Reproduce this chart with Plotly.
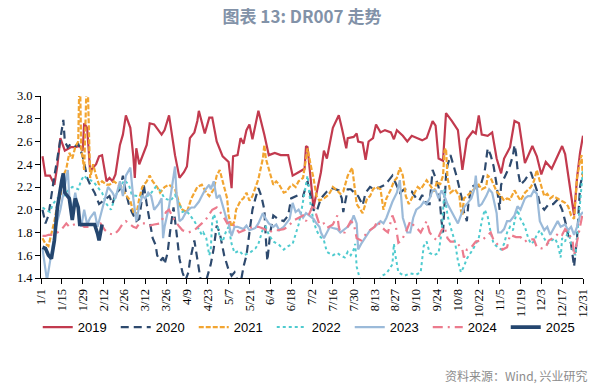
import plotly.graph_objects as go

# ---- tick labels (day of year -> label) ----
tick_days = [0, 14, 28, 42, 56, 70, 84, 98, 112, 126, 140, 154, 168, 182, 196, 210, 224, 238, 252, 266, 280, 294, 308, 322, 336, 350, 364]
tick_labels = ["1/1", "1/15", "1/29", "2/12", "2/26", "3/12", "3/26", "4/9", "4/23", "5/7", "5/21", "6/4", "6/18", "7/2", "7/16", "7/30", "8/13", "8/27", "9/10", "9/24", "10/8", "10/22", "11/5", "11/19", "12/3", "12/17", "12/31"]

# ---- series: day of year and DR007 (%) ----
d2019 = [1,3,6,9,11,13,16,20,23,26,28,29,31,33,37,39,41,44,46,48,50,53,55,57,60,62,63,64,66,71,73,76,81,83,86,88,90,93,96,98,100,103,105,106,108,110,113,115,118,122,126,128,129,132,134,136,138,140,142,146,150,153,157,161,166,169,173,177,178,179,183,188,190,192,196,200,202,205,206,210,212,213,216,218,220,223,225,228,231,235,237,239,243,246,249,252,256,259,263,265,267,270,272,276,280,283,286,290,292,294,296,300,303,306,309,311,315,318,321,325,328,330,333,336,339,343,350,352,355,358,360,362,364]
v2019 = [2.47,2.30,2.30,2.22,2.39,2.63,2.52,2.55,2.55,2.56,2.52,2.76,2.72,2.34,2.40,2.47,2.48,2.25,2.28,2.25,2.31,2.57,2.66,2.83,2.72,2.47,2.28,2.54,2.40,2.57,2.76,2.75,2.66,2.70,2.83,2.66,2.48,2.28,2.33,2.38,2.63,2.68,2.78,2.87,2.78,2.67,2.81,2.81,2.60,2.47,2.42,2.19,2.47,2.48,2.63,2.58,2.70,2.75,2.62,2.87,2.66,2.48,2.50,2.48,2.48,2.30,2.33,2.36,2.56,2.55,2.02,2.33,2.52,2.45,2.72,2.83,2.72,2.54,2.63,2.64,2.67,2.60,2.59,2.44,2.60,2.63,2.75,2.68,2.70,2.68,2.62,2.70,2.65,2.60,2.65,2.63,2.61,2.63,2.78,2.74,2.45,2.43,2.85,2.78,2.70,2.35,2.62,2.69,2.67,2.83,2.66,2.65,2.68,2.45,2.32,2.45,2.55,2.78,2.76,2.41,2.50,2.56,2.47,2.31,2.42,2.36,2.56,2.49,2.22,1.95,2.28,2.50,2.65]

d2020 = [1,3,5,7,9,11,13,15,16,18,20,23,25,28,30,31,33,36,39,42,44,46,48,50,53,55,57,59,61,64,66,68,69,71,73,75,77,78,80,82,83,85,87,89,91,93,95,97,99,100,103,105,107,109,111,114,116,118,120,123,126,128,130,132,134,136,138,140,142,144,146,148,150,151,152,154,156,159,163,166,168,173,176,179,183,185,188,192,196,200,202,203,206,208,211,213,216,218,221,224,228,231,233,236,238,241,244,246,249,252,254,256,259,261,263,265,267,269,270,271,272,273,275,279,281,283,284,286,287,289,292,295,298,300,302,304,306,308,309,311,315,317,318,319,320,322,325,327,329,331,333,335,338,341,344,347,350,352,354,356,357,358,360,361,362,364]
v2020 = [2.00,1.88,1.95,2.15,2.30,2.45,2.62,2.79,2.60,2.55,2.58,2.56,2.58,2.47,2.35,2.28,2.22,2.15,2.05,2.08,2.10,2.12,2.05,2.14,2.18,2.30,2.15,2.05,1.98,1.90,1.92,2.15,2.22,2.05,1.90,1.75,1.69,1.60,1.55,1.58,1.52,1.62,1.84,2.02,1.80,1.57,1.45,1.38,1.45,1.55,1.73,1.55,1.40,1.35,1.38,1.52,1.66,1.86,1.80,1.60,1.47,1.42,1.45,1.38,1.35,1.50,1.60,1.80,2.00,2.10,2.19,2.12,2.00,1.75,1.55,1.80,1.95,1.92,1.90,1.95,2.10,2.13,2.12,2.25,2.00,1.98,2.10,2.16,2.19,2.17,2.10,1.98,2.18,2.18,2.14,2.12,2.04,2.15,2.20,2.18,2.20,2.22,2.25,2.30,2.24,2.15,2.18,2.17,2.16,2.10,2.08,2.13,2.05,2.05,2.35,2.28,2.20,1.90,1.80,2.05,2.30,2.39,2.48,2.30,2.18,2.08,1.98,1.90,2.05,2.20,2.22,2.20,2.34,2.54,2.48,2.38,2.22,2.00,2.22,2.28,2.39,2.48,2.57,2.50,2.36,2.22,2.26,2.30,2.33,2.25,2.17,2.05,2.00,2.05,2.05,2.09,2.00,1.90,1.78,1.70,1.62,1.50,1.75,2.02,2.20,2.33]

d2021 = [1,3,5,7,9,11,13,15,17,19,21,23,25,26,27,29,31,33,35,37,39,41,44,46,49,52,54,57,60,62,64,66,68,71,73,75,78,80,83,86,90,93,95,98,101,105,108,111,113,116,118,120,123,125,126,128,130,131,134,136,138,140,142,144,146,149,150,151,153,156,158,160,163,165,167,169,171,173,176,178,179,181,183,185,187,190,192,194,196,198,201,203,206,209,211,212,215,216,219,221,223,225,228,229,230,232,235,237,239,241,243,245,247,249,252,253,255,257,259,261,264,266,268,270,271,272,273,275,278,281,282,283,284,286,289,292,294,296,299,300,302,304,306,309,311,313,315,318,320,322,325,327,329,331,333,335,338,340,342,344,347,349,352,354,356,358,360,362,363,364]
v2021 = [1.75,1.70,1.68,1.78,1.90,2.05,2.12,2.30,2.36,2.50,2.45,2.55,2.60,3.30,2.55,2.35,3.30,2.28,2.40,2.30,2.22,2.25,2.22,2.22,2.25,2.22,2.20,2.13,2.08,1.98,1.95,2.10,2.20,2.25,2.30,2.25,2.20,2.15,2.20,2.22,2.18,2.05,2.00,1.98,2.10,2.20,2.22,2.15,2.12,2.18,2.30,2.35,2.20,2.10,1.95,1.85,1.90,2.00,2.08,2.10,2.15,2.08,2.12,2.20,2.27,2.45,2.57,2.45,2.35,2.22,2.25,2.22,2.15,2.16,2.20,2.22,2.20,2.25,2.28,2.48,2.54,2.40,2.28,2.12,2.08,2.10,2.12,2.15,2.20,2.18,2.14,2.16,2.30,2.37,2.17,2.05,1.99,1.97,2.10,2.12,2.18,2.20,2.18,2.06,2.00,2.10,2.18,2.25,2.28,2.37,2.30,2.12,2.05,2.10,2.18,2.20,2.18,2.22,2.26,2.22,2.16,2.25,2.22,2.30,2.52,2.54,2.28,2.15,2.18,2.12,2.00,1.95,2.10,2.12,2.16,2.20,2.22,2.18,2.20,2.30,2.28,2.22,2.16,2.12,2.08,2.10,2.09,2.17,2.12,2.08,2.15,2.18,2.20,2.25,2.35,2.25,2.12,2.14,2.10,2.12,2.10,2.08,2.06,2.03,1.95,1.92,2.28,2.43,2.48,2.28]

d2022 = [1,4,6,8,11,15,19,21,25,27,29,31,35,38,41,44,47,50,53,56,59,61,64,69,73,77,80,83,87,90,93,95,97,99,103,105,108,109,111,113,114,115,116,118,120,122,124,126,128,130,133,136,140,142,144,146,149,151,153,156,160,163,166,169,171,173,175,178,179,181,183,185,187,190,192,196,199,201,204,206,208,210,211,212,214,217,221,225,229,232,236,237,238,240,244,248,252,255,257,259,261,264,267,269,270,271,272,273,275,278,280,282,284,286,290,292,294,296,298,300,302,304,306,309,311,313,315,317,318,320,322,325,327,329,331,333,335,338,340,342,345,347,348,349,350,352,354,357,359,361,362,363,364]
v2022 = [2.02,2.00,1.98,2.05,2.10,2.12,2.18,2.20,2.18,2.26,2.30,2.27,2.25,2.20,2.15,2.05,2.00,2.12,2.20,2.26,2.22,2.13,2.12,2.11,2.13,2.20,2.17,2.10,2.08,2.13,2.05,1.98,1.99,1.97,1.90,1.85,1.78,1.80,1.75,1.60,1.65,1.90,1.96,1.90,1.76,1.72,1.80,1.85,1.70,1.62,1.64,1.60,1.62,1.64,1.66,1.70,1.83,1.85,1.78,1.72,1.69,1.65,1.68,1.70,1.78,1.87,2.00,2.20,2.30,2.05,1.90,1.82,1.77,1.73,1.63,1.60,1.62,1.60,1.58,1.63,1.60,1.65,1.70,1.50,1.40,1.32,1.30,1.33,1.42,1.44,1.52,1.70,1.60,1.45,1.42,1.44,1.43,1.45,1.68,1.72,1.62,1.60,1.62,1.80,2.05,2.18,2.05,1.95,1.85,1.72,1.55,1.45,1.50,1.57,1.65,1.70,1.75,1.90,2.00,1.94,1.80,1.70,1.68,1.65,1.70,1.80,1.85,1.82,1.90,2.00,1.92,1.85,1.76,1.70,1.72,1.78,1.82,1.75,1.70,1.72,1.75,1.70,1.65,1.58,1.75,1.72,1.82,1.65,1.60,1.90,2.12,2.25,2.36]

d2023 = [1,4,7,10,13,17,18,19,21,23,25,27,29,31,33,36,38,40,43,45,48,50,53,55,57,60,62,63,64,66,68,70,72,74,76,79,81,82,83,86,88,90,91,93,95,97,99,101,103,106,108,110,113,114,116,118,120,123,125,126,128,130,132,136,138,140,144,146,149,151,153,156,158,160,163,167,169,171,173,176,178,180,183,185,187,188,190,192,194,196,199,201,203,206,208,210,212,213,215,216,219,221,224,228,230,232,234,236,239,241,243,246,248,250,252,255,257,259,261,263,265,267,269,271,273,275,278,280,282,284,286,289,291,292,294,296,299,301,303,306,307,309,311,313,315,318,320,322,325,327,329,331,333,335,338,340,342,345,347,349,352,354,356,358,360,362,364]
v2023 = [1.66,1.38,1.62,1.85,2.00,2.30,2.35,2.12,2.00,2.15,2.00,1.85,2.00,1.87,1.93,1.98,1.85,1.95,2.12,2.20,2.15,2.10,2.25,2.12,2.30,2.37,2.10,1.98,1.90,2.03,2.12,2.10,2.15,2.12,2.00,2.05,2.10,1.75,1.85,2.03,2.22,2.38,2.15,1.90,1.92,1.97,2.00,2.02,2.02,2.07,2.12,2.17,2.22,2.18,2.25,2.10,2.13,2.00,1.90,1.88,1.77,1.85,1.85,1.83,1.86,1.82,1.84,1.88,1.97,1.92,1.88,1.85,1.87,1.82,1.85,1.92,2.06,1.98,2.00,1.93,1.97,1.95,1.92,1.88,1.85,1.80,1.75,1.80,1.85,1.84,1.83,1.80,1.82,1.85,1.88,1.95,1.88,1.65,1.70,1.72,1.78,1.82,1.85,1.90,1.88,1.93,2.00,2.07,2.15,2.26,1.93,1.80,1.80,1.93,2.00,2.03,2.07,2.05,2.10,2.17,2.17,2.10,2.17,2.12,2.05,2.00,1.93,1.88,1.95,2.02,2.05,2.10,2.18,2.30,2.03,2.05,2.12,2.18,2.15,1.97,1.80,1.80,1.83,1.90,1.90,1.95,2.03,2.00,2.10,2.12,2.12,2.17,2.14,1.90,1.82,1.85,1.78,1.85,1.90,1.85,1.87,1.82,1.85,1.78,1.85,1.95,1.98]

d2024 = [1,3,5,7,9,11,14,17,19,21,24,26,29,33,36,40,43,46,49,52,55,57,60,62,64,66,70,73,76,80,84,86,88,90,93,95,99,103,108,111,115,118,122,125,128,130,133,136,140,143,146,150,153,156,159,163,166,169,173,176,178,181,183,185,187,190,192,196,198,199,200,201,204,206,208,210,212,215,219,221,224,226,228,231,233,236,238,240,242,245,248,251,253,255,257,259,261,264,266,269,271,273,275,278,280,283,284,286,289,292,296,300,302,304,308,310,313,315,319,322,325,327,331,333,336,339,341,345,348,350,352,354,357,358,360,362,363,364]
v2024 = [1.77,1.77,1.78,1.78,1.79,1.80,1.83,1.88,1.85,1.86,1.88,1.88,1.85,1.85,1.87,1.88,1.82,1.79,1.78,1.82,1.88,1.90,1.87,1.85,1.84,1.88,1.88,1.86,1.87,1.88,1.98,2.00,1.95,1.90,1.85,1.82,1.80,1.82,1.88,1.92,2.00,2.02,1.95,1.88,1.90,1.85,1.80,1.82,1.84,1.85,1.85,1.83,1.80,1.82,1.82,1.83,1.85,1.90,1.93,1.95,1.90,2.00,2.05,1.95,1.87,1.88,1.84,1.87,1.92,1.95,1.85,1.80,1.80,1.85,1.90,1.88,1.75,1.73,1.80,1.82,1.85,1.90,1.86,1.82,1.80,1.95,1.88,1.71,1.73,1.80,1.90,1.85,1.83,1.80,1.85,1.90,1.80,1.75,1.73,1.82,1.85,1.75,1.72,1.72,1.70,1.65,1.58,1.65,1.67,1.72,1.73,1.78,1.80,1.73,1.68,1.65,1.67,1.78,1.76,1.76,1.72,1.74,1.74,1.67,1.66,1.67,1.73,1.76,1.80,1.78,1.83,1.80,1.73,1.60,1.72,1.85,1.94,1.98]

d2025 = [1,3,5,7,9,11,14,15,16,19,21,23,25,26,29,31,33,36,38,39,41]
v2025 = [1.67,1.66,1.60,1.57,1.73,2.02,2.26,2.32,2.15,2.10,1.91,2.10,2.02,1.87,1.87,1.87,1.87,1.87,1.79,1.73,1.87]

series = [
    ("2019", d2019, v2019, dict(color="#C23A4E", width=2.2, dash="solid")),
    ("2020", d2020, v2020, dict(color="#2E4A6E", width=2.2, dash="8px,5px")),
    ("2021", d2021, v2021, dict(color="#F2A531", width=2.2, dash="5px,2px")),
    ("2022", d2022, v2022, dict(color="#4FCBCF", width=2.0, dash="dot")),
    ("2023", d2023, v2023, dict(color="#9BBAD9", width=2.2, dash="solid")),
    ("2024", d2024, v2024, dict(color="#EC7B8D", width=2.2, dash="10px,5px,2px,5px")),
    ("2025", d2025, v2025, dict(color="#24466F", width=3.6, dash="solid")),
]

fig = go.Figure()
for name, xs, ys, line in series:
    fig.add_trace(go.Scatter(x=xs, y=ys, mode="lines", name=name, line=line))

tick_font = dict(family="Liberation Serif", size=12.5, color="#000000")

fig.update_layout(
    width=604, height=387,
    margin=dict(l=41, r=21, t=96, b=109, autoexpand=False),
    paper_bgcolor="white", plot_bgcolor="white",
    title=dict(text="<b>图表 13: DR007 走势</b>", x=0.5, xref="container", xanchor="center",
               y=1 - 17 / 387, yref="container", yanchor="middle",
               font=dict(family="Noto Sans CJK SC", size=17, color="#8292A8")),
    legend=dict(orientation="h", x=-0.006, xanchor="left", y=-0.27, yanchor="middle",
                entrywidth=33, entrywidthmode="pixels", tracegroupgap=0,
                font=dict(family="Liberation Sans Narrow, Liberation Sans, sans-serif", size=13, color="#000000"),
                bgcolor="rgba(0,0,0,0)"),
    annotations=[dict(text="资料来源：Wind, 兴业研究", xref="paper", yref="paper",
                      x=1.013, y=-0.533, xanchor="right", yanchor="middle", showarrow=False,
                      font=dict(family="Noto Sans CJK SC", size=12, color="#8C8C8C"))],
)

fig.update_xaxes(range=[0, 364], tickmode="array", tickvals=tick_days, ticktext=tick_labels,
                 tickangle=-90, ticks="outside", ticklen=5, tickcolor="#000000",
                 showline=True, linecolor="#000000", linewidth=1, showgrid=False, zeroline=False,
                 tickfont=tick_font, automargin=False)
fig.update_yaxes(range=[1.4, 3.0], tickmode="array", tickvals=[1.4, 1.6, 1.8, 2.0, 2.2, 2.4, 2.6, 2.8, 3.0],
                 tickformat=".1f", ticks="outside", ticklen=5, tickcolor="#000000",
                 showline=True, linecolor="#000000", linewidth=1, showgrid=False, zeroline=False,
                 tickfont=tick_font, automargin=False)

# remove the browser's default page margin so the figure sits at the window's top-left corner
fig.write_html("out.html", config={"displayModeBar": False},
               post_script="document.body.style.margin='0';")
